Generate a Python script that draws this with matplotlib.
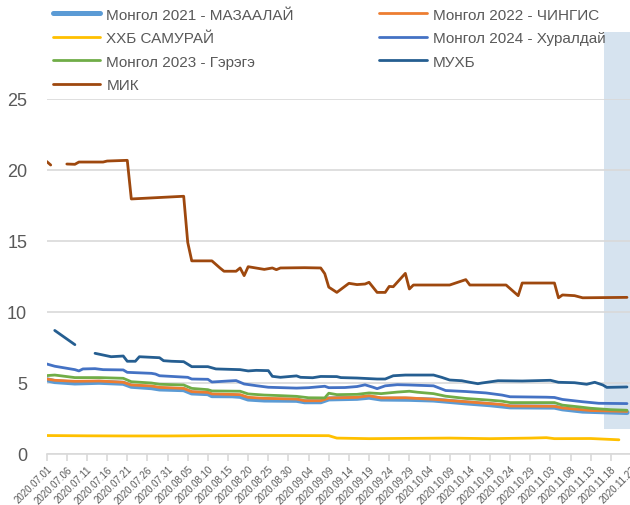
import matplotlib
matplotlib.use("Agg")
import matplotlib.pyplot as plt
import numpy as np
import pandas as pd
from matplotlib.patches import Rectangle

plt.rcParams["font.family"] = ["Liberation Sans", "DejaVu Sans"]

START = "2020-07-01"
N_DAYS = 145

# day offsets from START and values
m2021_day = [0, 2, 7, 13, 19, 21, 26, 28, 34, 36, 40, 41, 46, 48, 50, 54, 62, 64, 68, 70, 77, 80, 83, 90, 96, 104, 110, 115, 126, 128, 133, 144]
m2021_val = [5.23, 5.1, 5.0, 5.05, 4.98, 4.77, 4.67, 4.58, 4.53, 4.3, 4.25, 4.11, 4.1, 4.06, 3.87, 3.8, 3.78, 3.68, 3.68, 3.88, 3.92, 4.0, 3.87, 3.85, 3.8, 3.6, 3.47, 3.32, 3.3, 3.18, 3.02, 2.92]

m2022_day = [0, 2, 7, 13, 19, 21, 26, 28, 34, 36, 40, 41, 48, 50, 54, 62, 64, 68, 70, 77, 80, 83, 89, 96, 104, 110, 113, 115, 126, 128, 132, 135, 144]
m2022_val = [5.28, 5.19, 5.12, 5.14, 5.05, 4.86, 4.79, 4.69, 4.62, 4.39, 4.34, 4.23, 4.18, 3.99, 3.92, 3.87, 3.75, 3.75, 3.94, 3.99, 4.1, 3.95, 3.96, 3.85, 3.68, 3.55, 3.48, 3.38, 3.36, 3.24, 3.14, 3.06, 3.0]

xxb_day = [0, 10, 20, 30, 40, 50, 60, 70, 72, 80, 90, 100, 110, 120, 124, 126, 135, 142]
xxb_val = [1.3, 1.28, 1.27, 1.27, 1.29, 1.3, 1.3, 1.29, 1.12, 1.08, 1.1, 1.12, 1.08, 1.12, 1.15, 1.08, 1.09, 1.0]

m2024_day = [0, 2, 7, 8, 9, 12, 14, 19, 20, 26, 27, 28, 35, 36, 40, 41, 45, 47, 49, 52, 55, 62, 65, 69, 70, 74, 77, 79, 81, 82, 84, 87, 90, 96, 99, 104, 109, 113, 115, 124, 126, 128, 133, 137, 144]
m2024_val = [6.34, 6.18, 5.94, 5.85, 5.99, 6.01, 5.94, 5.92, 5.75, 5.68, 5.63, 5.51, 5.4, 5.28, 5.26, 5.07, 5.14, 5.17, 4.93, 4.81, 4.7, 4.64, 4.67, 4.77, 4.67, 4.68, 4.75, 4.87, 4.7, 4.6, 4.8, 4.88, 4.86, 4.8, 4.47, 4.4, 4.3, 4.15, 4.03, 4.0, 3.98, 3.84, 3.68, 3.57, 3.55]

m2023_day = [0, 2, 7, 13, 19, 21, 26, 28, 34, 36, 40, 41, 48, 50, 54, 58, 62, 65, 69, 70, 72, 77, 80, 83, 87, 90, 92, 96, 99, 104, 110, 113, 115, 126, 128, 132, 135, 140, 144]
m2023_val = [5.52, 5.56, 5.38, 5.38, 5.33, 5.09, 5.0, 4.91, 4.86, 4.62, 4.53, 4.44, 4.42, 4.23, 4.15, 4.11, 4.06, 3.96, 3.95, 4.28, 4.18, 4.2, 4.3, 4.25, 4.36, 4.42, 4.35, 4.25, 4.07, 3.91, 3.79, 3.72, 3.62, 3.62, 3.44, 3.32, 3.22, 3.12, 3.08]

# NaN marks the gap in the line
muxb_day = [2, 6, 7, 9, 12, 14, 16, 19, 20, 22, 23, 28, 29, 31, 34, 36, 40, 42, 48, 50, 52, 55, 56, 58, 62, 63, 66, 68, 72, 73, 77, 82, 84, 86, 89, 96, 98, 100, 103, 105, 107, 108, 112, 118, 125, 127, 131, 134, 136, 138, 139, 144]
muxb_val = [8.7, 7.9, 7.7, np.nan, 7.09, 6.97, 6.85, 6.9, 6.53, 6.53, 6.85, 6.78, 6.57, 6.53, 6.5, 6.15, 6.15, 5.99, 5.94, 5.85, 5.89, 5.87, 5.47, 5.4, 5.5, 5.4, 5.37, 5.46, 5.45, 5.38, 5.35, 5.28, 5.28, 5.51, 5.56, 5.56, 5.4, 5.21, 5.16, 5.05, 4.95, 5.0, 5.16, 5.14, 5.19, 5.05, 5.02, 4.91, 5.05, 4.86, 4.69, 4.72]

mik_day = [0, 1, 3, 5, 7, 8, 14, 15, 20, 21, 34, 35, 36, 41, 43, 44, 47, 48, 49, 50, 54, 56, 57, 58, 64, 68, 69, 70, 72, 75, 77, 79, 80, 82, 84, 85, 86, 89, 90, 91, 100, 104, 105, 114, 117, 118, 126, 127, 128, 131, 133, 144]
mik_val = [20.6, 20.35, np.nan, 20.42, 20.4, 20.56, 20.56, 20.63, 20.68, 17.96, 18.15, 14.9, 13.6, 13.6, 13.1, 12.87, 12.87, 13.1, 12.56, 13.19, 13.0, 13.1, 12.98, 13.1, 13.12, 13.1, 12.7, 11.75, 11.38, 12.02, 11.93, 11.97, 12.09, 11.38, 11.38, 11.8, 11.78, 12.72, 11.62, 11.9, 11.9, 12.28, 11.9, 11.9, 11.15, 12.04, 12.04, 11.0, 11.2, 11.15, 11.0, 11.03]

series = [
    ("Монгол 2021 - МАЗААЛАЙ", m2021_day, m2021_val, "#5B9BD5", 3.6),
    ("Монгол 2022 - ЧИНГИС", m2022_day, m2022_val, "#ED7D31", 2.0),
    ("ХХБ САМУРАЙ", xxb_day, xxb_val, "#FFC000", 2.0),
    ("Монгол 2024 - Хуралдай", m2024_day, m2024_val, "#4472C4", 2.0),
    ("Монгол 2023 - Гэрэгэ", m2023_day, m2023_val, "#70AD47", 2.0),
    ("МУХБ", muxb_day, muxb_val, "#255E91", 2.0),
    ("МИК", mik_day, mik_val, "#9E480E", 2.0),
]

tick_days = list(range(0, N_DAYS + 1, 5))
tick_labels = pd.date_range(START, periods=len(tick_days), freq="5D").strftime("%Y.%m.%d")

fig = plt.figure(figsize=(6.3, 5.06), dpi=100)
ax = fig.add_axes([0.0741, 0.1008, 0.9275, 0.7016])
ax.set_facecolor("none")

# highlight band at the right edge
fig.add_artist(Rectangle((604 / 630, 1 - 430 / 506), 30 / 630, 397 / 506,
                         transform=fig.transFigure, facecolor="#D6E3EF",
                         edgecolor="none", zorder=-1))

handles = {}
for name, d, v, color, lw in series:
    (ln,) = ax.plot(d, v, color=color, linewidth=lw, solid_capstyle="round", label=name)
    handles[name] = ln

ax.set_xlim(0, N_DAYS)
ax.set_ylim(0, 25)
ax.set_yticks(range(0, 26, 5))
ax.grid(axis="y", color="#D9D9D9", linewidth=1.2)
ax.set_axisbelow(True)

for s in ["top", "right", "left"]:
    ax.spines[s].set_visible(False)
ax.spines["bottom"].set_color("#D9D9D9")
ax.spines["bottom"].set_linewidth(1.2)

ax.set_xticks(tick_days)
ax.set_xticklabels(tick_labels, rotation=45, ha="right", rotation_mode="anchor",
                   fontsize=7.0, color="#595959")
ax.tick_params(axis="x", length=5, color="#D9D9D9", width=1.2, pad=2)
ax.tick_params(axis="y", length=0, pad=14, labelsize=13, labelcolor="#595959")

order = ["Монгол 2021 - МАЗААЛАЙ", "ХХБ САМУРАЙ", "Монгол 2023 - Гэрэгэ", "МИК",
         "Монгол 2022 - ЧИНГИС", "Монгол 2024 - Хуралдай", "МУХБ"]
leg = fig.legend([handles[k] for k in order], order, ncol=2, loc="upper left",
                 bbox_to_anchor=(0.062, 1.01), frameon=False, fontsize=11,
                 handlelength=3.1, handletextpad=0.4, columnspacing=5.6,
                 labelspacing=0.62, labelcolor="#595959")

fig.savefig("out.png", dpi=100)
